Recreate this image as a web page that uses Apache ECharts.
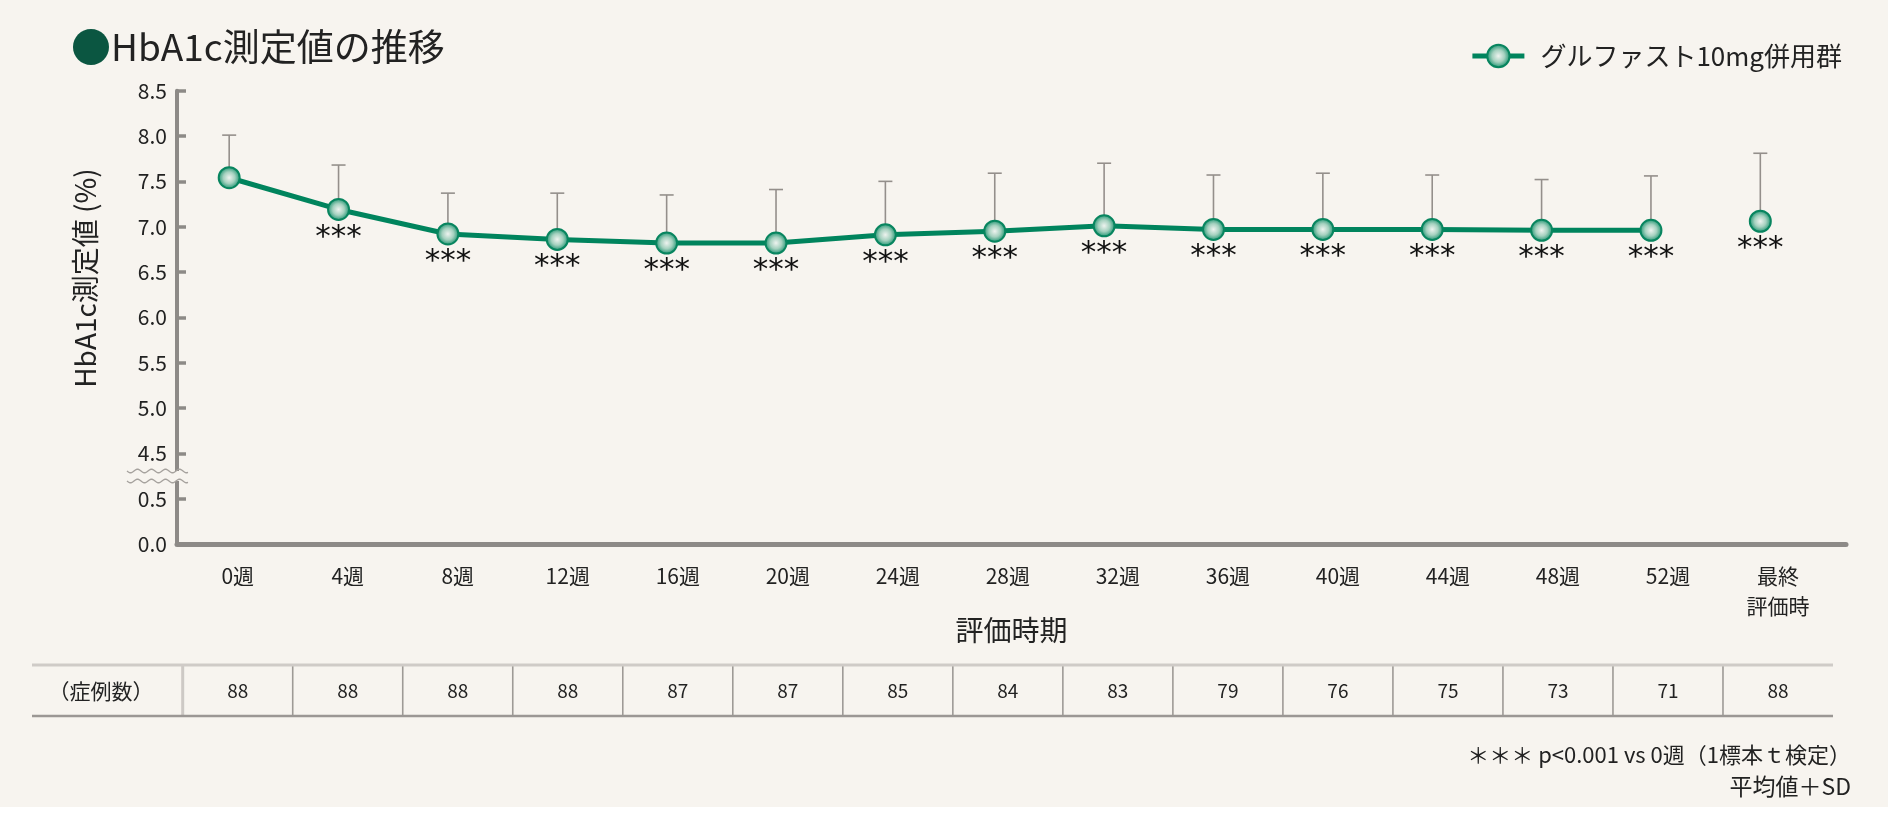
<!DOCTYPE html>
<html><head><meta charset="utf-8">
<script src="https://cdn.jsdelivr.net/npm/echarts@6/dist/echarts.min.js"></script>
<style>html,body{margin:0;padding:0;background:#f7f4ef;}#c{width:1888px;height:816px;}</style>
</head><body><div id="c"></div>
<script>
// ---- data ----
const categories = ['0週','4週','8週','12週','16週','20週','24週','28週','32週','36週','40週','44週','48週','52週','最終\n評価時'];
const meanValues = [7.54,7.19,6.92,6.86,6.82,6.82,6.91,6.95,7.01,6.97,6.97,6.97,6.96,6.96,7.06];
const sdValues   = [0.47,0.49,0.45,0.51,0.53,0.59,0.59,0.64,0.69,0.60,0.62,0.60,0.56,0.60,0.75];
const significance = ['','***','***','***','***','***','***','***','***','***','***','***','***','***','***'];
const caseCounts = [88,88,88,88,87,87,85,84,83,79,76,75,73,71,88];
const yTickLabels = ['0.0','0.5','4.5','5.0','5.5','6.0','6.5','7.0','7.5','8.0','8.5'];
const seriesName = 'グルファスト10mg併用群';
const BREAK_LOW = 0.5, BREAK_HIGH = 4.5, TICK_STEP = 0.5;

// broken axis mapping: values >= BREAK_HIGH are shifted down so BREAK_HIGH sits one step above BREAK_LOW
function toAxis(v){ return v >= BREAK_HIGH ? v - (BREAK_HIGH - BREAK_LOW - TICK_STEP) : v; }

const FONT = '"Noto Sans CJK JP","Noto Sans",sans-serif';
const BG = '#f7f4ef';
const AXIS_C = '#8d8a87';
const N = categories.length;

const lineData = meanValues.map((v,i)=> i < N-1 ? toAxis(v) : '-');
const finalData = meanValues.map((v,i)=> i === N-1 ? toAxis(v) : '-');
const errData = meanValues.map((v,i)=>[i, toAxis(v), toAxis(v + sdValues[i])]);
const tableData = caseCounts.map((n,i)=>[i, n]);

const markerStyle = {
  color: {type:'radial', x:0.5, y:0.5, r:0.5, colorStops:[
    {offset:0, color:'#eef3ef'}, {offset:0.5, color:'#a5d1bf'}, {offset:1, color:'#128e69'}]},
  borderColor:'#08855f', borderWidth:2
};

const chart = echarts.init(document.getElementById('c'), null, {renderer:'canvas'});
const option = {
  backgroundColor: BG,
  animation: false,
  textStyle: {fontFamily: FONT},
  title: {
    text: '{d|●}{t|HbA1c測定値の推移}',
    left: 66, top: 22,
    textStyle: {rich: {
      d: {fontSize: 40, color:'#0b5641', fontFamily: FONT, fontWeight:'normal'},
      t: {fontSize: 37, color:'#222', fontFamily: FONT, fontWeight:'normal'}
    }}
  },
  legend: {
    data: [{name: seriesName}],
    right: 41, top: 38,
    itemWidth: 52, itemHeight: 28, itemGap: 10,
    lineStyle: {width: 5},
    textStyle: {fontSize: 26, color:'#222', fontFamily: FONT, padding:[0,0,0,11]}
  },
  grid: [
    {left:177, right:42, top:90.7, bottom:272},
    {left:182.7, right:55, top:90.7, bottom:272},
    {left:174.5, right:73, top:90.7, bottom:272},
    {left:182.7, right:55, top:665, height:51}
  ],
  xAxis: [
    {gridIndex:0, type:'category', data:categories,
     axisLine:{show:true, lineStyle:{color:AXIS_C, width:5}},
     axisTick:{show:false}, axisLabel:{show:false},
     name:'評価時期', nameLocation:'middle', nameGap:72,
     nameTextStyle:{fontSize:28, color:'#222', fontFamily:FONT}},
    {gridIndex:1, type:'category', data:categories,
     axisLine:{show:false}, axisTick:{show:false},
     axisLabel:{fontSize:21, lineHeight:30, margin:17, color:'#222', fontFamily:FONT, interval:0}},
    {gridIndex:2, type:'category', data:categories, show:false},
    {gridIndex:3, type:'category', data:categories, show:false}
  ],
  yAxis: [
    {gridIndex:0, type:'value', min:0, max:5, interval:TICK_STEP,
     axisLine:{show:true, lineStyle:{color:AXIS_C, width:4}},
     axisTick:{show:true, inside:true, length:9, lineStyle:{color:AXIS_C, width:3.5}},
     splitLine:{show:false},
     axisLabel:{fontSize:21, color:'#222', margin:10, fontFamily:FONT,
       formatter:(v)=> yTickLabels[Math.round(v/TICK_STEP)]}},
    {gridIndex:1, type:'value', min:0, max:5, show:false},
    {gridIndex:2, type:'value', min:0, max:5, show:false},
    {gridIndex:3, type:'value', min:0, max:1, show:false}
  ],
  series: [
    {type:'custom', name:'sd', xAxisIndex:2, yAxisIndex:2, z:2, silent:true,
     data: errData,
     renderItem: function(params, api){
       const i = api.value(0);
       const p0 = api.coord([i, api.value(1)]);
       const p1 = api.coord([i, api.value(2)]);
       const children = [
         {type:'line', shape:{x1:p0[0], y1:p0[1], x2:p1[0], y2:p1[1]}, style:{stroke:'#948f8b', lineWidth:1.6}},
         {type:'line', shape:{x1:p1[0]-7, y1:p1[1], x2:p1[0]+7, y2:p1[1]}, style:{stroke:'#948f8b', lineWidth:1.6}}
       ];
       const s = significance[params.dataIndex];
       if (s) children.push({type:'text', x:p0[0], y:p0[1]+28,
         style:{text:s, textAlign:'center', textVerticalAlign:'middle', fontSize:31, fontFamily:'"DejaVu Sans",sans-serif', fill:'#111'}});
       return {type:'group', children};
     }},
    {type:'line', name:seriesName, xAxisIndex:2, yAxisIndex:2, z:3,
     data: lineData, symbol:'circle', symbolSize:21,
     lineStyle:{color:'#00845d', width:5}, itemStyle:markerStyle},
    {type:'line', name:seriesName, xAxisIndex:2, yAxisIndex:2, z:3,
     data: finalData, symbol:'circle', symbolSize:21, showSymbol:true,
     lineStyle:{color:'#00845d', width:5}, itemStyle:markerStyle},
    {type:'custom', name:'table', xAxisIndex:3, yAxisIndex:3, silent:true,
     data: tableData,
     renderItem: function(params, api){
       const i = api.value(0);
       const c = api.coord([i, 0.5]);
       const bw = api.size([1, 0])[0];
       const cs = params.coordSys;
       const xl = c[0] - bw/2;
       return {type:'group', children:[
         {type:'line', shape:{x1:xl, y1:cs.y, x2:xl, y2:cs.y+cs.height},
          style:{stroke: i===0 ? '#cdc9c5' : '#9e9a96', lineWidth: i===0 ? 3 : 1.6}},
         {type:'text', x:c[0], y:c[1], style:{text:String(api.value(1)), textAlign:'center', textVerticalAlign:'middle', fontSize:19, fontFamily:FONT, fill:'#222'}}
       ]};
     }}
  ]
};
chart.setOption(option);

// decorations: break marks, table frame, footnotes
const yB = chart.convertToPixel({yAxisIndex:0}, BREAK_LOW + TICK_STEP / 2);
function wave(x0, x1, y, amp, period){
  const pts = [];
  for (let x = x0; x <= x1; x += 1) pts.push([x, y + amp*Math.sin((x-x0)/period*2*Math.PI)]);
  return pts;
}
chart.setOption({graphic: [
  {type:'rect', shape:{x:168, y:yB-5, width:22, height:10}, style:{fill:BG}, z:100},
  {type:'polyline', shape:{points: wave(127, 188, yB-5, 1.8, 14)}, style:{stroke:'#a6a29e', lineWidth:1.4, fill:null}, z:101},
  {type:'polyline', shape:{points: wave(127, 188, yB+5, 1.8, 14)}, style:{stroke:'#a6a29e', lineWidth:1.4, fill:null}, z:101},
  {type:'line', shape:{x1:32, y1:665, x2:1833, y2:665}, style:{stroke:'#cfcbc7', lineWidth:3}, z:50},
  {type:'line', shape:{x1:32, y1:716, x2:1833, y2:716}, style:{stroke:'#9b9794', lineWidth:2.5}, z:50},
  {type:'text', x:101, y:691, style:{text:'（症例数）', textAlign:'center', textVerticalAlign:'middle', fontSize:21, fontFamily:FONT, fill:'#222'}},
  {type:'text', x:85, y:278, rotation:Math.PI/2, style:{text:'HbA1c測定値 (%)', textAlign:'center', textVerticalAlign:'middle', fontSize:28, fontFamily:FONT, fill:'#222'}},
  {type:'text', x:1851, y:755, style:{text:'＊＊＊ p<0.001 vs 0週（1標本ｔ検定）', textAlign:'right', textVerticalAlign:'middle', fontSize:22, fontFamily:FONT, fill:'#222'}},
  {type:'text', x:1851, y:786, style:{text:'平均値＋SD', textAlign:'right', textVerticalAlign:'middle', fontSize:23, fontFamily:FONT, fill:'#222'}},
  {type:'rect', shape:{x:0, y:807, width:1888, height:9}, style:{fill:'#ffffff'}}
]});
</script></body></html>
